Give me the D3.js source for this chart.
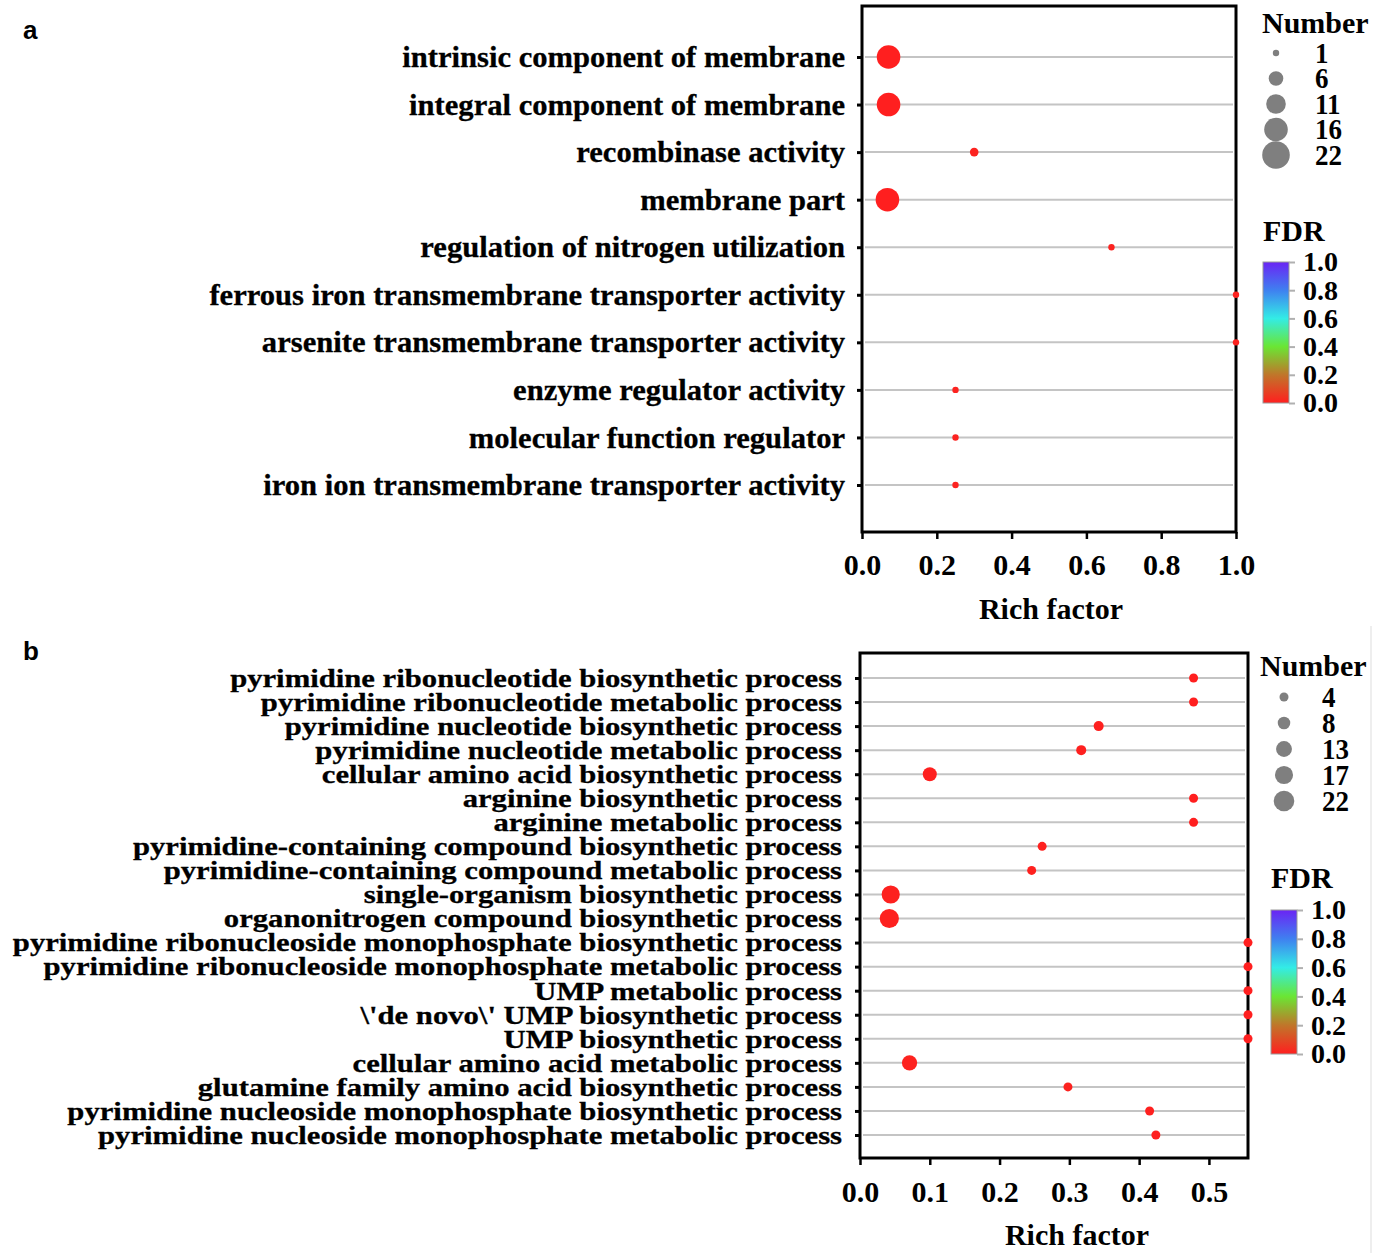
<!DOCTYPE html>
<html>
<head>
<meta charset="utf-8">
<script src="https://cdn.jsdelivr.net/npm/d3@7"></script>
<style>
  body { margin: 0; background: #fff; }
  svg text { font-family: "Liberation Serif", "Times New Roman", serif; font-weight: bold; fill: #000; }
  svg text.panel-label { font-family: "Liberation Sans", Arial, sans-serif; }
</style>
</head>
<body>
<svg id="chart"></svg>
<script>
// ---- panel a: GO terms ----
const termsA = [
    "intrinsic component of membrane",
    "integral component of membrane",
    "recombinase activity",
    "membrane part",
    "regulation of nitrogen utilization",
    "ferrous iron transmembrane transporter activity",
    "arsenite transmembrane transporter activity",
    "enzyme regulator activity",
    "molecular function regulator",
    "iron ion transmembrane transporter activity"
];
const richA = [0.071, 0.071, 0.30, 0.068, 0.667, 1.0, 1.0, 0.25, 0.25, 0.25];
const countA = [16, 16, 2, 16, 1, 1, 1, 1, 1, 1];
const fdrA = [0.001, 0.001, 0.01, 0.001, 0.01, 0.01, 0.01, 0.01, 0.01, 0.01];
const xTicksA = [0, 0.2, 0.4, 0.6, 0.8, 1.0];
const sizeBreaksA = [1, 6, 11, 16, 22];

// ---- panel b: GO terms ----
const termsB = [
    "pyrimidine ribonucleotide biosynthetic process",
    "pyrimidine ribonucleotide metabolic process",
    "pyrimidine nucleotide biosynthetic process",
    "pyrimidine nucleotide metabolic process",
    "cellular amino acid biosynthetic process",
    "arginine biosynthetic process",
    "arginine metabolic process",
    "pyrimidine-containing compound biosynthetic process",
    "pyrimidine-containing compound metabolic process",
    "single-organism biosynthetic process",
    "organonitrogen compound biosynthetic process",
    "pyrimidine ribonucleoside monophosphate biosynthetic process",
    "pyrimidine ribonucleoside monophosphate metabolic process",
    "UMP metabolic process",
    "\\'de novo\\' UMP biosynthetic process",
    "UMP biosynthetic process",
    "cellular amino acid metabolic process",
    "glutamine family amino acid biosynthetic process",
    "pyrimidine nucleoside monophosphate biosynthetic process",
    "pyrimidine nucleoside monophosphate metabolic process"
];
const richB = [0.478, 0.478, 0.342, 0.317, 0.100, 0.478, 0.478, 0.261, 0.246, 0.044,
               0.042, 0.556, 0.556, 0.556, 0.556, 0.556, 0.071, 0.298, 0.415, 0.424];
const countB = [4, 4, 5, 5, 10, 4, 4, 4, 4, 17, 19, 4, 4, 4, 4, 4, 12, 4, 4, 4];
const fdrB = [0.001, 0.001, 0.002, 0.002, 0.003, 0.001, 0.001, 0.004, 0.004, 0.005,
              0.005, 0.001, 0.001, 0.001, 0.001, 0.001, 0.006, 0.008, 0.002, 0.002];
const xTicksB = [0, 0.1, 0.2, 0.3, 0.4, 0.5];
const sizeBreaksB = [4, 8, 13, 17, 22];

const fdrTicks = [0, 0.2, 0.4, 0.6, 0.8, 1.0];
const fdrColors = ["#ff1f1f", "#c0762a", "#6ae634", "#33ece6", "#3f80f0", "#6a24f4"];

const width = 1379;
const height = 1253;
const fontSize = 30;
const legendFontSize = 27;
const gridColor = "#c4c4c4";
const legendGray = "#7f7f7f";

const colorScale = d3.scaleLinear().domain(fdrTicks).range(fdrColors);
const fmt = d3.format(".1f");

const svg = d3.select("#chart")
    .attr("width", width)
    .attr("height", height)
    .attr("viewBox", `0 0 ${width} ${height}`);

const defs = svg.append("defs");
const grad = defs.append("linearGradient")
    .attr("id", "fdr-grad")
    .attr("x1", 0).attr("y1", 1).attr("x2", 0).attr("y2", 0);
grad.selectAll("stop")
    .data(fdrTicks)
    .join("stop")
    .attr("offset", d => d)
    .attr("stop-color", d => colorScale(d));

const panels = [
    {
        label: "a", labelY: 39,
        terms: termsA, rich: richA, count: countA, fdr: fdrA,
        xDomain: [0, 1], xTicks: xTicksA,
        sizeBreaks: sizeBreaksA, sizeRange: [3.2, 13.8],
        box: { left: 862, right: 1236, top: 6, bottom: 532 },
        rowPad: [51, 47], labelPad: 12, labelSize: 30, labelScale: 1.02, xLabelPad: 15,
        xTitle: { x: 1051, y: 619 },
        numLegend: { x: 1262, titleY: 33, cx: 1276, textX: 1315, y0: 53, y1: 155 },
        fdrLegend: { x: 1263, titleY: 241, barW: 26, top: 262, bottom: 403 }
    },
    {
        label: "b", labelY: 660,
        terms: termsB, rich: richB, count: countB, fdr: fdrB,
        xDomain: [0, 0.556], xTicks: xTicksB,
        sizeBreaks: sizeBreaksB, sizeRange: [4.5, 10.3],
        box: { left: 860, right: 1248, top: 653, bottom: 1158 },
        rowPad: [25, 23], labelPad: 13, labelSize: 26, labelScale: 1.18, xLabelPad: 16,
        xTitle: { x: 1077, y: 1245 },
        numLegend: { x: 1260, titleY: 676, cx: 1284, textX: 1322, y0: 697, y1: 801 },
        fdrLegend: { x: 1271, titleY: 888, barW: 26, top: 910, bottom: 1054 }
    }
];

const drawPanel = (p) => {
    const g = svg.append("g").attr("class", `panel-${p.label}`);
    const { left, right, top, bottom } = p.box;

    const x = d3.scaleLinear().domain(p.xDomain).range([left, right]);
    const y = d3.scalePoint().domain(p.terms).range([top + p.rowPad[0], bottom - p.rowPad[1]]);
    const r = d3.scaleRadial().domain([p.sizeBreaks[0], p.sizeBreaks[p.sizeBreaks.length - 1]]).range(p.sizeRange);

    const rows = p.terms.map((t, i) => ({ term: t, rich: p.rich[i], count: p.count[i], fdr: p.fdr[i] }));

    // grid
    g.append("g")
        .selectAll("line")
        .data(p.terms)
        .join("line")
        .attr("x1", left + 3)
        .attr("x2", right - 3)
        .attr("y1", d => y(d))
        .attr("y2", d => y(d))
        .attr("stroke", gridColor)
        .attr("stroke-width", 2);

    // frame
    g.append("rect")
        .attr("x", left)
        .attr("y", top)
        .attr("width", right - left)
        .attr("height", bottom - top)
        .attr("fill", "none")
        .attr("stroke", "#000")
        .attr("stroke-width", 3);

    // points
    g.append("g")
        .selectAll("circle")
        .data(rows)
        .join("circle")
        .attr("cx", d => x(d.rich))
        .attr("cy", d => y(d.term))
        .attr("r", d => r(d.count))
        .attr("fill", d => colorScale(d.fdr));

    // y axis (term labels, stretched a little sideways like the original)
    const yAxis = g.append("g")
        .attr("transform", `translate(${left},0)`)
        .call(d3.axisLeft(y).tickSize(5).tickPadding(p.labelPad));
    yAxis.select(".domain").remove();
    yAxis.selectAll(".tick line").attr("stroke", "#000").attr("stroke-width", 3);
    yAxis.selectAll(".tick text")
        .attr("font-size", p.labelSize)
        .attr("font-family", null)
        .attr("x", -(5 + p.labelPad) / p.labelScale)
        .attr("transform", `scale(${p.labelScale},1)`)
        .attr("stroke", "#000")
        .attr("stroke-width", 0.3)
        .attr("dy", "0.32em");

    // x axis
    const xAxis = g.append("g")
        .attr("transform", `translate(0,${bottom})`)
        .call(d3.axisBottom(x).tickValues(p.xTicks).tickFormat(fmt).tickSize(7).tickPadding(p.xLabelPad));
    xAxis.select(".domain").remove();
    xAxis.selectAll(".tick line").attr("stroke", "#000").attr("stroke-width", 2.5);
    xAxis.selectAll(".tick text")
        .attr("font-size", fontSize)
        .attr("font-family", null);

    g.append("text")
        .attr("x", p.xTitle.x)
        .attr("y", p.xTitle.y)
        .attr("text-anchor", "middle")
        .attr("font-size", fontSize)
        .text("Rich factor");

    // size legend
    const nl = p.numLegend;
    g.append("text")
        .attr("x", nl.x)
        .attr("y", nl.titleY)
        .attr("font-size", fontSize)
        .text("Number");
    const ly = d3.scalePoint().domain(p.sizeBreaks).range([nl.y0, nl.y1]);
    const items = g.append("g")
        .selectAll("g")
        .data(p.sizeBreaks)
        .join("g")
        .attr("transform", d => `translate(0,${ly(d)})`);
    items.append("circle")
        .attr("cx", nl.cx)
        .attr("r", d => r(d))
        .attr("fill", legendGray);
    items.append("text")
        .attr("x", nl.textX)
        .attr("dy", "0.34em")
        .attr("font-size", legendFontSize)
        .attr("transform", "scale(1,1.08)")
        .text(d => d);

    // FDR colour bar
    const fl = p.fdrLegend;
    g.append("text")
        .attr("x", fl.x)
        .attr("y", fl.titleY)
        .attr("font-size", fontSize)
        .text("FDR");
    g.append("rect")
        .attr("x", fl.x)
        .attr("y", fl.top)
        .attr("width", fl.barW)
        .attr("height", fl.bottom - fl.top)
        .attr("fill", "url(#fdr-grad)")
        .attr("stroke", "#9a9a9a")
        .attr("stroke-width", 1);
    const cy = d3.scaleLinear().domain([0, 1]).range([fl.bottom, fl.top]);
    const cAxis = g.append("g")
        .attr("transform", `translate(${fl.x + fl.barW},0)`)
        .call(d3.axisRight(cy).tickValues(fdrTicks).tickFormat(fmt).tickSize(6).tickPadding(8));
    cAxis.select(".domain").remove();
    cAxis.selectAll(".tick line").attr("stroke", "#b0b0b0").attr("stroke-width", 2);
    cAxis.selectAll(".tick text")
        .attr("font-size", legendFontSize + 1)
        .attr("font-family", null);

    // panel letter
    svg.append("text")
        .attr("class", "panel-label")
        .attr("x", 23)
        .attr("y", p.labelY)
        .attr("font-size", 26)
        .text(p.label);
};

panels.forEach(drawPanel);

// faint edge of the lower panel image
svg.append("line")
    .attr("x1", 1371).attr("x2", 1371)
    .attr("y1", 626).attr("y2", height)
    .attr("stroke", "#e8e8e8")
    .attr("stroke-width", 1.5);
</script>
</body>
</html>
